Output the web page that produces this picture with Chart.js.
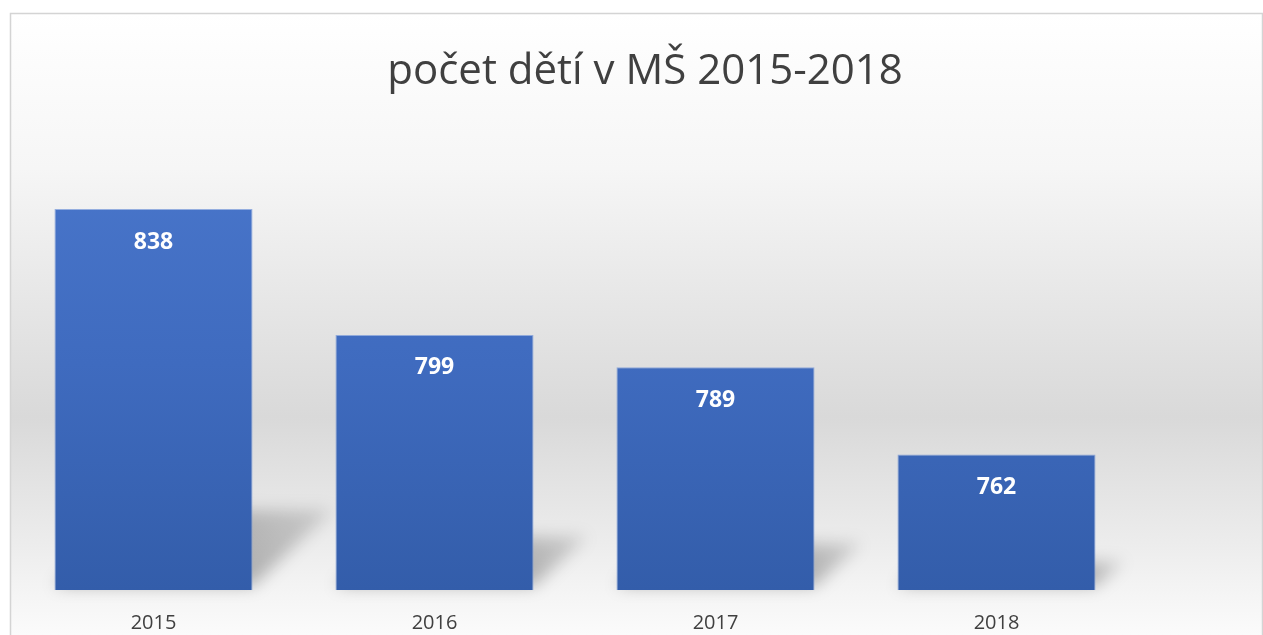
<!DOCTYPE html>
<html>
<head>
<meta charset="utf-8">
<script src="https://cdn.jsdelivr.net/npm/chart.js@4/dist/chart.umd.min.js"></script>
<style>
  html, body { margin: 0; padding: 0; background: #fff; overflow: hidden; }
  canvas { display: block; }
</style>
</head>
<body>
<canvas id="chart" width="1263" height="635"></canvas>
<script>
// Data
const years = ['2015', '2016', '2017', '2018'];
const children = [838, 799, 789, 762];
const chartTitle = 'počet dětí v MŠ 2015-2018';
const axisMin = 720;
const axisMax = 860;

const FONT = '"Open Sans", sans-serif';

// Frame + gradient background + title
const backgroundPlugin = {
    id: 'bg',
    beforeDraw(chart) {
        const ctx = chart.ctx;
        const x0 = 10, y0 = 13, x1 = chart.width - 1, y1 = chart.height;
        const g = ctx.createLinearGradient(0, y0, 0, y1);
        g.addColorStop(0, '#ffffff');
        g.addColorStop(0.25, '#f6f6f6');
        g.addColorStop(0.65, '#d9d9d9');
        g.addColorStop(0.85, '#ececec');
        g.addColorStop(1, '#fbfbfb');
        ctx.save();
        ctx.fillStyle = '#ffffff';
        ctx.fillRect(0, 0, chart.width, chart.height);
        ctx.fillStyle = g;
        ctx.fillRect(x0, y0, x1 - x0, y1 - y0);
        ctx.strokeStyle = '#d4d4d4';
        ctx.lineWidth = 1.5;
        ctx.strokeRect(x0 + 0.5, y0 + 0.5, x1 - x0, y1 - y0 + 5);

        // title, centred on the whole frame
        ctx.fillStyle = '#404040';
        ctx.font = '42px ' + FONT;
        ctx.textAlign = 'center';
        ctx.textBaseline = 'middle';
        ctx.fillText(chartTitle, (x0 + x1) / 2 + 9, 72);
        ctx.restore();
    }
};

// Perspective shadow behind each bar
const shadowPlugin = {
    id: 'barShadow',
    beforeDatasetsDraw(chart) {
        const ctx = chart.ctx;
        const meta = chart.getDatasetMeta(0);
        const k = 0.21;
        ctx.save();
        ctx.filter = 'blur(8px)';
        meta.data.forEach(bar => {
            const half = bar.width / 2;
            const base = chart.chartArea.bottom;
            const h = base - bar.y;
            const left = bar.x - half, right = bar.x + half;
            const g = ctx.createLinearGradient(right, base, right + h * k, base - h * k);
            g.addColorStop(0, 'rgba(0,0,0,0.28)');
            g.addColorStop(1, 'rgba(0,0,0,0.12)');
            ctx.fillStyle = g;
            ctx.beginPath();
            ctx.moveTo(left, base - 4);
            ctx.lineTo(right, base - 4);
            ctx.lineTo(right + h * k, base - h * k);
            ctx.lineTo(left + h * k, base - h * k);
            ctx.closePath();
            ctx.fill();
        });
        ctx.restore();
    }
};

// Value labels inside the bars
const valueLabels = {
    id: 'valueLabels',
    afterDatasetsDraw(chart) {
        const ctx = chart.ctx;
        const meta = chart.getDatasetMeta(0);
        ctx.save();
        ctx.fillStyle = '#ffffff';
        ctx.font = 'bold 23px ' + FONT;
        ctx.textAlign = 'center';
        ctx.textBaseline = 'middle';
        meta.data.forEach((bar, i) => {
            ctx.fillText(children[i], bar.x, bar.y + 33);
        });
        ctx.restore();
    }
};

function barGradient(context) {
    const chart = context.chart;
    const area = chart.chartArea;
    if (!area) return '#4472c4';
    const g = chart.ctx.createLinearGradient(0, area.top, 0, area.bottom);
    g.addColorStop(0, '#4a77cc');
    g.addColorStop(0.5, '#3f6bbf');
    g.addColorStop(1, '#335daa');
    return g;
}

const ctx = document.getElementById('chart').getContext('2d');
new Chart(ctx, {
    type: 'bar',
    data: {
        labels: years,
        datasets: [{
            data: children,
            base: axisMin,
            backgroundColor: barGradient,
            borderColor: 'rgba(110,145,215,0.7)',
            borderWidth: 1,
            categoryPercentage: 1,
            barPercentage: 0.705,
        }]
    },
    options: {
        responsive: false,
        animation: false,
        layout: { padding: { left: 13, right: 126, top: 138, bottom: 0 } },
        plugins: {
            legend: { display: false },
            tooltip: { enabled: false },
            title: { display: false },
        },
        scales: {
            y: {
                display: false,
                min: axisMin,
                max: axisMax,
            },
            x: {
                grid: { display: false, drawTicks: false },
                border: { display: false },
                afterFit(scale) { scale.height = 45; },
                ticks: {
                    color: '#404040',
                    padding: 21,
                    font: { family: FONT, size: 20 },
                },
            },
        },
    },
    plugins: [backgroundPlugin, shadowPlugin, valueLabels],
});
</script>
</body>
</html>
